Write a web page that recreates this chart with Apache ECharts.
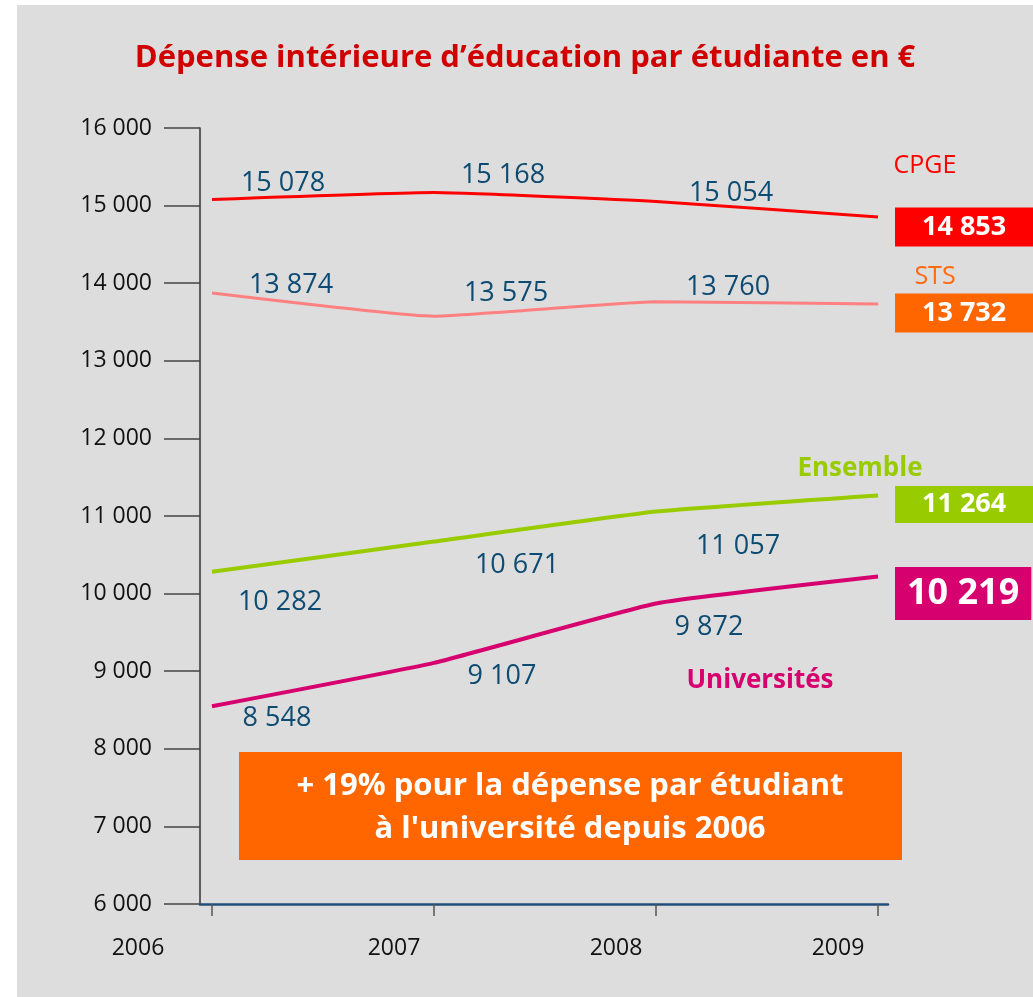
<!DOCTYPE html>
<html>
<head>
<meta charset="utf-8">
<script src="https://cdn.jsdelivr.net/npm/echarts@6/dist/echarts.min.js"></script>
<style>
  html, body { margin: 0; padding: 0; background: #fff; }
  #chart { position: absolute; left: 17px; top: 5px; width: 1016px; height: 992px; }
</style>
</head>
<body>
<div id="chart"></div>
<script>
// années et valeurs (dépense par étudiant en €)
const years = [2006, 2007, 2008, 2009];
const cpge = [15078, 15168, 15054, 14853];
const sts = [13874, 13575, 13760, 13732];
const ensemble = [10282, 10671, 11057, 11264];
const universites = [8548, 9107, 9872, 10219];

// décalage des étiquettes bleues par rapport au point (px)
const cpgeShift = [[71, -16], [69, -17], [75, -8]];
const stsShift = [[79, -8], [72, -23], [72, -15]];
const ensShift = [[68, 31], [83, 24], [82, 35]];
const univShift = [[65, 12], [68, 13], [53, 24]];

const fmt = (v) => String(v).replace(/\B(?=(\d{3})+(?!\d))/g, " ");
const FONT = "Open Sans";

const makeSeries = (name, values, color, width, shifts, box) => ({
  name: name,
  type: "line",
  data: years.map((y, i) => ({
    value: [y, values[i]],
    label: shifts[i] ? { offset: shifts[i] } : { show: false },
  })),
  smooth: 0.12,
  symbol: "circle",
  symbolSize: 0.1,
  lineStyle: { color: color, width: width },
  itemStyle: { color: color },
  label: {
    show: true,
    position: "inside",
    fontFamily: FONT,
    fontSize: 27,
    color: "#0e4b72",
    formatter: (p) => (p.dataIndex === years.length - 1 ? "" : fmt(p.value[1])),
  },
  endLabel: {
    show: true,
    distance: 17,
    offset: box.offset,
    formatter: (p) => fmt(p.value[1]),
    fontFamily: FONT,
    fontWeight: "bold",
    fontSize: box.fontSize,
    lineHeight: box.lineHeight,
    color: "#fff",
    backgroundColor: box.bg,
    padding: box.padding,
  },
  emphasis: { disabled: true },
  animation: false,
});

const chart = echarts.init(document.getElementById("chart"));

const option = {
  backgroundColor: "#dddddd",
  animation: false,
  title: {
    text: "Dépense intérieure d’éducation par étudiante en €",
    left: "center",
    top: 33,
    textStyle: { fontFamily: FONT, fontSize: 31, fontWeight: "bold", color: "#d00000" },
  },
  grid: { left: 183, right: 145, top: 123, bottom: 93 },
  xAxis: {
    type: "value",
    min: 2005.946,
    max: 2009.045,
    splitLine: { show: false },
    axisLine: { lineStyle: { color: "#1f4e79", width: 2.5 } },
    axisTick: { customValues: years, length: 12, lineStyle: { color: "#555", width: 1.5 } },
    axisLabel: {
      customValues: years,
      margin: 33,
      padding: [0, 80, 0, 0],
      fontFamily: FONT,
      fontSize: 23,
      color: "#111",
      formatter: (v) => (v === years[0] ? "{first|" + v + "}" : String(v)),
      rich: { first: { fontFamily: FONT, fontSize: 23, color: "#111", padding: [0, 68, 0, 0] } },
    },
  },
  yAxis: {
    type: "value",
    min: 6000,
    max: 16000,
    interval: 1000,
    splitLine: { show: false },
    axisLine: { show: true, lineStyle: { color: "#333", width: 1.5 } },
    axisTick: { show: true, length: 36, lineStyle: { color: "#444", width: 1.5 } },
    axisLabel: { margin: 48, fontFamily: FONT, fontSize: 23, color: "#111", formatter: (v) => fmt(v) },
  },
  series: [
    makeSeries("CPGE", cpge, "#ff0000", 3, cpgeShift,
      { bg: "#ff0000", fontSize: 27, lineHeight: 31, padding: [4, 27, 4, 27], offset: [0, 10] }),
    makeSeries("STS", sts, "#ff8080", 3, stsShift,
      { bg: "#ff6600", fontSize: 27, lineHeight: 31, padding: [4, 27, 4, 27], offset: [0, 9] }),
    makeSeries("Ensemble", ensemble, "#99cc00", 4, ensShift,
      { bg: "#99cc00", fontSize: 27, lineHeight: 31, padding: [3, 27, 3, 27], offset: [0, 9] }),
    makeSeries("Universités", universites, "#d6006e", 4, univShift,
      { bg: "#d6006e", fontSize: 36, lineHeight: 41, padding: [6, 12, 6, 12], offset: [0, 17] }),
  ],
  graphic: [
    { type: "text", x: 908, y: 161, style: { text: "CPGE", fill: "#ff0000", font: "25px " + FONT, align: "center", verticalAlign: "middle" } },
    { type: "text", x: 918, y: 272, style: { text: "STS", fill: "#ff6a13", font: "25px " + FONT, align: "center", verticalAlign: "middle" } },
    { type: "text", x: 843, y: 464, style: { text: "Ensemble", fill: "#99cc00", font: "bold 26px " + FONT, align: "center", verticalAlign: "middle" } },
    { type: "text", x: 743, y: 676, style: { text: "Universités", fill: "#d6006e", font: "bold 26px " + FONT, align: "center", verticalAlign: "middle" } },
    {
      type: "group",
      left: 222,
      top: 747,
      children: [
        { type: "rect", shape: { x: 0, y: 0, width: 663, height: 108 }, style: { fill: "#ff6600" } },
        {
          type: "text",
          x: 331,
          y: 56,
          style: {
            text: "+ 19% pour la dépense par étudiant\nà l'université depuis 2006",
            fill: "#fff",
            font: "bold 31px " + FONT,
            lineHeight: 43,
            align: "center",
            verticalAlign: "middle",
          },
        },
      ],
    },
  ],
};

chart.setOption(option);
</script>
</body>
</html>
